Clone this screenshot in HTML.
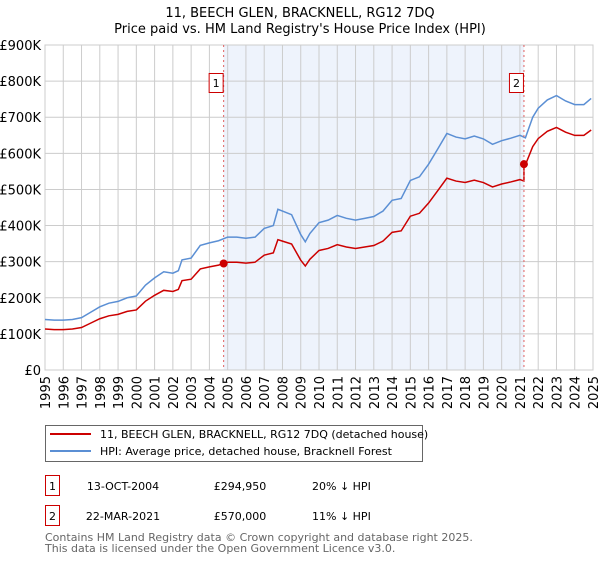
<!DOCTYPE html>
<html><head><meta charset="utf-8"><style>
body{margin:0;background:#fff;font-family:"DejaVu Sans","Liberation Sans",sans-serif;}
svg text{font-family:"DejaVu Sans","Liberation Sans",sans-serif;}
</style></head><body>
<svg id="chart" width="600" height="560" xmlns="http://www.w3.org/2000/svg">
<text x="300" y="17" text-anchor="middle" font-size="13">11, BEECH GLEN, BRACKNELL, RG12 7DQ</text>
<text x="300" y="33" text-anchor="middle" font-size="13">Price paid vs. HM Land Registry's House Price Index (HPI)</text>
<g id="plot"></g>
<g>
<rect x="45.5" y="425.5" width="377" height="36" fill="#fff" stroke="#666"/>
<line x1="50" y1="434" x2="91" y2="434" stroke="#cc0000" stroke-width="2"/>
<text x="100" y="438" font-size="11">11, BEECH GLEN, BRACKNELL, RG12 7DQ (detached house)</text>
<line x1="50" y1="451" x2="91" y2="451" stroke="#5b8fd4" stroke-width="2"/>
<text x="100" y="455" font-size="11">HPI: Average price, detached house, Bracknell Forest</text>
</g>
<g font-size="11">
<rect x="45.5" y="475.5" width="14" height="20" fill="none" stroke="#cc0000"/>
<text x="52.5" y="490" text-anchor="middle">1</text>
<text x="123" y="490" text-anchor="middle">13-OCT-2004</text>
<text x="240" y="490" text-anchor="middle">£294,950</text>
<text x="312" y="490">20% ↓ HPI</text>
<rect x="45.5" y="505.5" width="14" height="20" fill="none" stroke="#cc0000"/>
<text x="52.5" y="520" text-anchor="middle">2</text>
<text x="123" y="520" text-anchor="middle">22-MAR-2021</text>
<text x="240" y="520" text-anchor="middle">£570,000</text>
<text x="312" y="520">11% ↓ HPI</text>
</g>
<text x="45" y="541" font-size="11" fill="#666">Contains HM Land Registry data © Crown copyright and database right 2025.</text>
<text x="45" y="552" font-size="11" fill="#666">This data is licensed under the Open Government Licence v3.0.</text>
</svg>
<script>
const hpiYears=[1995,1995.5,1996,1996.5,1997,1997.5,1998,1998.5,1999,1999.5,2000,2000.5,2001,2001.5,2002,2002.3,2002.5,2003,2003.5,2004,2004.5,2005,2005.5,2006,2006.5,2007,2007.5,2007.75,2008,2008.5,2009,2009.25,2009.5,2010,2010.5,2011,2011.5,2012,2012.5,2013,2013.5,2014,2014.5,2015,2015.5,2016,2016.5,2017,2017.5,2018,2018.5,2019,2019.5,2020,2020.5,2021,2021.3,2021.7,2022,2022.5,2023,2023.5,2024,2024.5,2024.9];
const hpiValues=[140,138,138,140,145,160,175,185,190,200,205,235,255,272,268,275,305,310,345,352,358,368,368,365,368,392,400,445,440,430,375,355,378,408,415,428,420,415,420,425,440,470,475,525,535,570,612,655,645,640,648,640,625,635,642,650,643,700,725,748,760,745,735,735,752];
const saleYears=[2004.78,2021.22];
const salePrices=[294950,570000];
const saleLabels=["1","2"];
const yTicks=[0,100,200,300,400,500,600,700,800,900];
const yTickLabels=["£0","£100K","£200K","£300K","£400K","£500K","£600K","£700K","£800K","£900K"];
const xTicks=[1995,1996,1997,1998,1999,2000,2001,2002,2003,2004,2005,2006,2007,2008,2009,2010,2011,2012,2013,2014,2015,2016,2017,2018,2019,2020,2021,2022,2023,2024,2025];

const X0=45,X1=593,Y0=370,Y1=45;
const xs=y=>X0+(y-1995)/30*(X1-X0);
const ys=v=>Y0-v/900*(Y0-Y1);
const NS="http://www.w3.org/2000/svg";
const g=document.getElementById('plot');
function mk(t,a){const e=document.createElementNS(NS,t);for(const k in a)e.setAttribute(k,a[k]);g.appendChild(e);return e;}
function hpiAt(t){for(let i=0;i<hpiYears.length-1;i++){if(t<=hpiYears[i+1]){const f=(t-hpiYears[i])/(hpiYears[i+1]-hpiYears[i]);return hpiValues[i]+f*(hpiValues[i+1]-hpiValues[i]);}}return hpiValues[hpiValues.length-1];}

const shade=mk('rect',{x:xs(saleYears[0]),y:Y1,width:xs(saleYears[1])-xs(saleYears[0]),height:Y0-Y1,fill:'#eef3fc'});


yTicks.forEach((v,i)=>{
 const l=mk('line',{x1:X0,x2:X1,y1:ys(v),y2:ys(v),stroke:'#ccc','stroke-width':1});
 
 
 const t=mk('text',{x:X0-4,y:ys(v)+5,'text-anchor':'end','font-size':13});
 
 
 t.textContent=yTickLabels[i];
});
xTicks.forEach(y=>{
 const l=mk('line',{x1:xs(y),x2:xs(y),y1:Y1,y2:Y0,stroke:'#ccc','stroke-width':1});
 
 
 const t=mk('text',{x:0,y:0,'text-anchor':'end','font-size':13,transform:`translate(${xs(y)+5},${Y0+6}) rotate(-90)`});
 
 
 t.textContent=y;
});
const frame=mk('rect',{x:X0,y:Y1,width:X1-X0,height:Y0-Y1,fill:'none',stroke:'#ccc'});



const hp=mk('polyline',{points:hpiYears.map((y,i)=>xs(y)+','+ys(hpiValues[i])).join(' '),fill:'none',stroke:'#5b8fd4','stroke-width':1.5});


const r0=salePrices[0]/1000/hpiAt(saleYears[0]), r1=salePrices[1]/1000/hpiAt(saleYears[1]);
const pts=[];
hpiYears.forEach((y,i)=>{if(y<saleYears[1])pts.push([y,hpiValues[i]*r0]);});
pts.push([saleYears[1],hpiAt(saleYears[1])*r0]);
pts.push([saleYears[1],salePrices[1]/1000]);
hpiYears.forEach((y,i)=>{if(y>saleYears[1])pts.push([y,hpiValues[i]*r1]);});
const pl=mk('polyline',{points:pts.map(p=>xs(p[0])+','+ys(p[1])).join(' '),fill:'none',stroke:'#cc0000','stroke-width':1.5});



saleYears.forEach((y,i)=>{
 const l=mk('line',{x1:xs(y),x2:xs(y),y1:Y1,y2:Y0,stroke:'#e06060','stroke-dasharray':'2,3','stroke-width':1});
 
 
 const c=mk('circle',{cx:xs(y),cy:ys(salePrices[i]/1000),r:4,fill:'#cc0000'});
 
 
 const b=mk('rect',{x:xs(y)-14.5,y:73.5,width:14,height:19,fill:'#fff',stroke:'#cc0000'});
 
 
 const t=mk('text',{x:xs(y)-7.5,y:87,'text-anchor':'middle','font-size':11});
 
 
 t.textContent=saleLabels[i];
});
</script>
</body></html>
